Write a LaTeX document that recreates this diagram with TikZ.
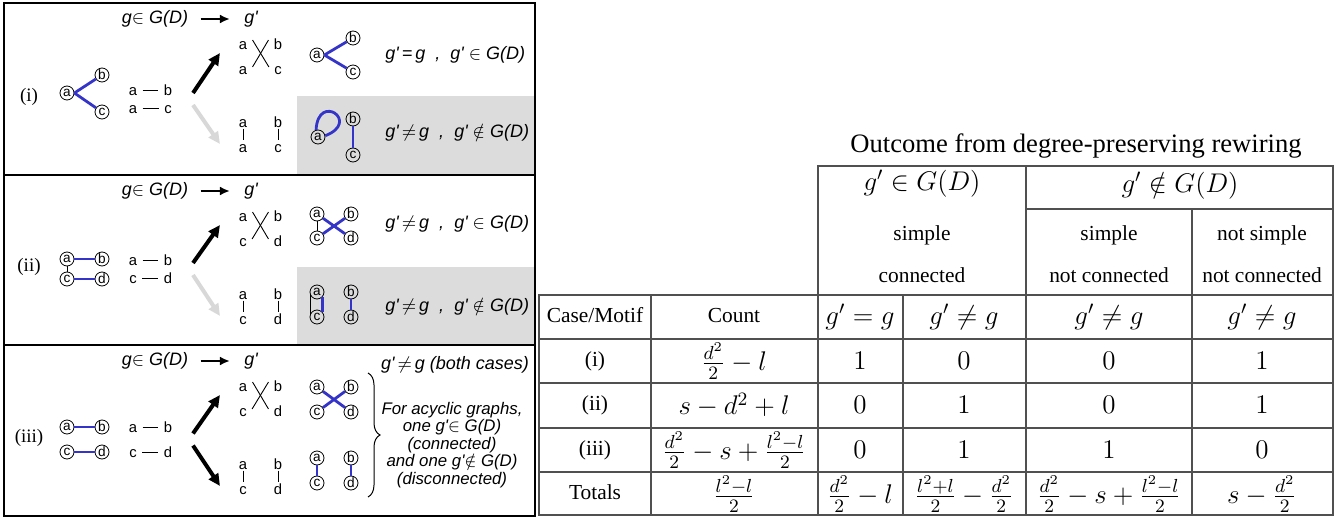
\RequirePackage{fix-cm}
\documentclass[tikz,border=0pt]{standalone}
\usepackage{fontspec}
\setmainfont{Liberation Serif}
\newfontfamily\hv{Liberation Sans}
\usepackage{tikz}
\usetikzlibrary{arrows.meta,decorations.pathreplacing}
\usepackage{xcolor}
\definecolor{EdgeBlue}{HTML}{3434C8}
\definecolor{ShadeGray}{HTML}{DCDCDC}
\definecolor{ArrowGray}{HTML}{D8D8D8}
\definecolor{RuleGray}{HTML}{505050}
\newcommand{\mth}[1]{{\fontsize{13.5}{16}\selectfont$#1$}}

\begin{document}
\begin{tikzpicture}[x=0.5pt, y=-0.5pt,
   vtx/.style={circle, draw, line width=0.4pt, inner sep=0pt, minimum size=7pt,
               font=\hv\fontsize{6.8}{7}\selectfont},
   ltr/.style={inner sep=0.5pt, text height=5.3pt, text depth=0pt,
               font=\hv\fontsize{7.4}{8}\selectfont},
   kedge/.style={line width=0.45pt},
   bedge/.style={EdgeBlue, line width=1.4pt},
   fat/.style={line width=2pt, -{Triangle[length=6pt,width=5.5pt]}},
   ttl/.style={inner sep=1pt, font=\hv\itshape\fontsize{9}{11}\selectfont},
   res/.style={anchor=west, inner sep=0pt, font=\hv\itshape\fontsize{9}{11}\selectfont},
   cell/.style={inner sep=0pt, font=\fontsize{10.7}{13}\selectfont},
   txt/.style={cell, text height=7.3pt, text depth=2.3pt},
   tabrule/.style={RuleGray, line width=0.7pt, line cap=rect}]
  \useasboundingbox (0,0) rectangle (1343,519);

  % shaded outcomes that leave G(D)
  \fill[ShadeGray] (297,96) rectangle (535,175);
  \fill[ShadeGray] (297,267) rectangle (535,345);
  % frame of the three motifs
  \draw[line width=0.75pt] (4,3) rectangle (535,516);
  \draw[line width=0.75pt] (4,175) -- (535,175) (4,345) -- (535,345);

  % common parts of each motif: title, edge pair, swapped pairs, arrows
  \foreach \p/\T/\La/\Lb/\Ra/\Rb/\ya/\yb/\dcol in
     {i/3/a/a/b/c/90/108/ArrowGray, ii/175/a/c/b/d/260/278/ArrowGray, iii/345/a/c/b/d/427/452/black} {
    \node[font=\fontsize{9.5}{11}\selectfont] (lab-\p) at (29,{(\ya+\yb)/2-2}) {(\p)};
    \node[ttl] (g-\p) at (155,\T+16) {g$\in$ G(D)};
    \node[ttl] (gp-\p) at (251,\T+16) {g'};
    \draw[line width=1.1pt, -{Latex[length=5pt,width=4.5pt]}, shorten <=5pt, shorten >=6pt]
      (g-\p) -- (gp-\p);
    % edge pair
    \node[ltr] (pa-\p) at (133,\ya) {\La};
    \node[ltr] (pb-\p) at (168,\ya) {\Ra};
    \node[ltr] (pc-\p) at (133,\yb) {\Lb};
    \node[ltr] (pd-\p) at (168,\yb) {\Rb};
    \draw[kedge] ([xshift=2pt]pa-\p.east) -- ([xshift=-2pt]pb-\p.west);
    \draw[kedge] ([xshift=2pt]pc-\p.east) -- ([xshift=-2pt]pd-\p.west);
    % crossed swap
    \node[ltr] (tl-\p) at (243,\T+41) {\La};
    \node[ltr] (bl-\p) at (243,\T+66) {\Lb};
    \node[ltr] (tr-\p) at (278,\T+41) {\Ra};
    \node[ltr] (br-\p) at (278,\T+66) {\Rb};
    \draw[kedge] ([xshift=2pt,yshift=2pt]tl-\p.east) -- ([xshift=-2pt,yshift=1pt]br-\p.west);
    \draw[kedge] ([xshift=2pt,yshift=1pt]bl-\p.east) -- ([xshift=-2pt,yshift=2pt]tr-\p.west);
    % parallel swap
    \node[ltr] (la-\p) at (243,\T+119) {\La};
    \node[ltr] (lb-\p) at (243,\T+144) {\Lb};
    \node[ltr] (ra-\p) at (278,\T+119) {\Ra};
    \node[ltr] (rb-\p) at (278,\T+144) {\Rb};
    \draw[kedge] (la-\p) -- (lb-\p);
    \draw[kedge] (ra-\p) -- (rb-\p);
    % the two rewiring arrows
    \coordinate (tu-\p) at (193,{(\ya+\yb)/2-6});
    \coordinate (td-\p) at (193,{(\ya+\yb)/2+6});
    \coordinate (hu-\p) at (220,\T+50);
    \coordinate (hd-\p) at (220,\T+141);
    \draw[fat, black] (tu-\p) -- (hu-\p);
    \draw[fat, \dcol] (td-\p) -- (hd-\p);
  }

  % motif (i)
  \node[vtx] (s-i-a) at (67,93) {a};
  \node[vtx] (s-i-b) at (102,75) {b};
  \node[vtx] (s-i-c) at (102,112) {c};
  \draw[bedge] (s-i-a.east) -- (s-i-b) (s-i-a.east) -- (s-i-c);
  \node[vtx] (up-i-a) at (317,55) {a};
  \node[vtx] (up-i-b) at (353,38) {b};
  \node[vtx] (up-i-c) at (353,72) {c};
  \draw[bedge] (up-i-a.east) -- (up-i-b) (up-i-a.east) -- (up-i-c);
  \node[res] (rt-i) at (385,55) {g'\,=\,g~ ,~ g' $\in$ G(D)};
  \node[vtx] (lo-i-a) at (318,137) {a};
  \node[vtx] (lo-i-b) at (353,119) {b};
  \node[vtx] (lo-i-c) at (353,155) {c};
  \draw[bedge] (lo-i-a.105) .. controls +(2,-38) and +(36,-14) .. (lo-i-a.10);
  \draw[bedge] (lo-i-b) -- (lo-i-c);
  \node[res] (rb-i) at (385,133) {g'\,$\neq$\,g~ ,~ g' $\notin$ G(D)};

  % motif (ii)
  \node[vtx] (s-ii-a) at (67,259) {a};
  \node[vtx] (s-ii-b) at (102,259) {b};
  \node[vtx] (s-ii-c) at (67,279) {c};
  \node[vtx] (s-ii-d) at (102,279) {d};
  \draw[kedge] (s-ii-a) -- (s-ii-c);
  \draw[bedge] (s-ii-a) -- (s-ii-b) (s-ii-c) -- (s-ii-d);
  \node[vtx] (up-ii-a) at (317,214) {a};
  \node[vtx] (up-ii-b) at (351,214) {b};
  \node[vtx] (up-ii-c) at (317,238) {c};
  \node[vtx] (up-ii-d) at (351,238) {d};
  \draw[kedge] (up-ii-a) -- (up-ii-c);
  \draw[bedge] (up-ii-a) -- (up-ii-d) (up-ii-c) -- (up-ii-b);
  \node[res] (rt-ii) at (385,224) {g'\,$\neq$\,g~ ,~ g' $\in$ G(D)};
  \node[vtx] (lo-ii-a) at (317,292) {a};
  \node[vtx] (lo-ii-b) at (351,292) {b};
  \node[vtx] (lo-ii-c) at (317,317) {c};
  \node[vtx] (lo-ii-d) at (351,317) {d};
  \draw[kedge] (lo-ii-a.200) -- (lo-ii-c.160);
  \draw[bedge] (lo-ii-a.-40) -- (lo-ii-c.40) (lo-ii-b) -- (lo-ii-d);
  \node[res] (rb-ii) at (385,307) {g'\,$\neq$\,g~ ,~ g' $\notin$ G(D)};

  % motif (iii)
  \node[vtx] (s-iii-a) at (67,427) {a};
  \node[vtx] (s-iii-b) at (102,427) {b};
  \node[vtx] (s-iii-c) at (67,452) {c};
  \node[vtx] (s-iii-d) at (102,452) {d};
  \draw[bedge] (s-iii-a) -- (s-iii-b) (s-iii-c) -- (s-iii-d);
  \node[vtx] (up-iii-a) at (317,387) {a};
  \node[vtx] (up-iii-b) at (351,387) {b};
  \node[vtx] (up-iii-c) at (317,412) {c};
  \node[vtx] (up-iii-d) at (351,412) {d};
  \draw[bedge] (up-iii-a) -- (up-iii-d) (up-iii-c) -- (up-iii-b);
  \node[vtx] (lo-iii-a) at (317,458) {a};
  \node[vtx] (lo-iii-b) at (351,458) {b};
  \node[vtx] (lo-iii-c) at (317,483) {c};
  \node[vtx] (lo-iii-d) at (351,483) {d};
  \draw[bedge] (lo-iii-a) -- (lo-iii-c) (lo-iii-b) -- (lo-iii-d);
  \coordinate (brace-t) at (368,373);
  \coordinate (brace-b) at (368,497);
  \draw[decorate, decoration={brace, amplitude=6pt}, line width=0.5pt] (brace-t) -- (brace-b);
  \node[ttl] (both) at (455,365) {g'\,$\neq$\,g (both cases)};
  \node[ttl, align=center, font=\hv\itshape\fontsize{8.4}{8.8}\selectfont] (acyc) at (452,445)
    {For acyclic graphs,\\one g'$\in$ G(D)\\(connected)\\and one g'$\notin$ G(D)\\(disconnected)};

  % table of outcomes
  \node[font=\fontsize{13.3}{15}\selectfont, inner sep=0pt] (outcome) at (1076,146)
    {Outcome from degree-preserving rewiring};
  \draw[tabrule] (818,166) -- (1333,166);
  \draw[tabrule] (1026,209) -- (1333,209);
  \foreach \y in {295,339,383,428,472,515} \draw[tabrule] (539,\y) -- (1333,\y);
  \foreach \x in {539,651,903} \draw[tabrule] (\x,295) -- (\x,515);
  \foreach \x in {818,1026,1333} \draw[tabrule] (\x,166) -- (\x,515);
  \draw[tabrule] (1192,209) -- (1192,515);

  \node[cell] (in-G) at (922,184) {\mth{g' \in G(D)}};
  \node[cell] (out-G) at (1180,186) {\mth{g' \notin G(D)}};
  \node[txt] (simp-in) at (922,235) {simple};
  \node[txt] (conn-in) at (922,277) {connected};
  \node[txt] (simp-out) at (1109,235) {simple};
  \node[txt] (conn-out) at (1109,277) {not connected};
  \node[txt] (nsimp-out) at (1262,235) {not simple};
  \node[txt] (nconn-out) at (1262,277) {not connected};

  \node[txt] (h-case) at (595,317) {Case/Motif};
  \node[txt] (h-count) at (734,317) {Count};
  \node[cell] (h-eq) at (860,317) {\mth{g' = g}};
  \node[cell] (h-ne) at (964,317) {\mth{g' \neq g}};
  \node[cell] (h-ns) at (1109,317) {\mth{g' \neq g}};
  \node[cell] (h-nn) at (1262,317) {\mth{g' \neq g}};

  \foreach \r/\y/\cnt/\va/\vb/\vc/\vd in
     {i/361/{\frac{d^2}{2}-l}/1/0/0/1,
      ii/405/{s-d^2+l}/0/1/0/1,
      iii/450/{\frac{d^2}{2}-s+\frac{l^2-l}{2}}/0/1/1/0} {
    \node[txt] (case-\r) at (595,\y) {(\r)};
    \node[cell] (cnt-\r) at (734,\y) {\mth{\cnt}};
    \node[cell] (eq-\r) at (860,\y) {\mth{\va}};
    \node[cell] (ne-\r) at (964,\y) {\mth{\vb}};
    \node[cell] (ns-\r) at (1109,\y) {\mth{\vc}};
    \node[cell] (nn-\r) at (1262,\y) {\mth{\vd}};
  }
  \node[txt] (case-tot) at (595,494) {Totals};
  \node[cell] (cnt-tot) at (734,494) {\mth{\frac{l^2-l}{2}}};
  \node[cell] (eq-tot) at (860,494) {\mth{\frac{d^2}{2}-l}};
  \node[cell] (ne-tot) at (964,494) {\mth{\frac{l^2+l}{2}-\frac{d^2}{2}}};
  \node[cell] (ns-tot) at (1109,494) {\mth{\frac{d^2}{2}-s+\frac{l^2-l}{2}}};
  \node[cell] (nn-tot) at (1262,494) {\mth{s-\frac{d^2}{2}}};
\end{tikzpicture}
\end{document}
